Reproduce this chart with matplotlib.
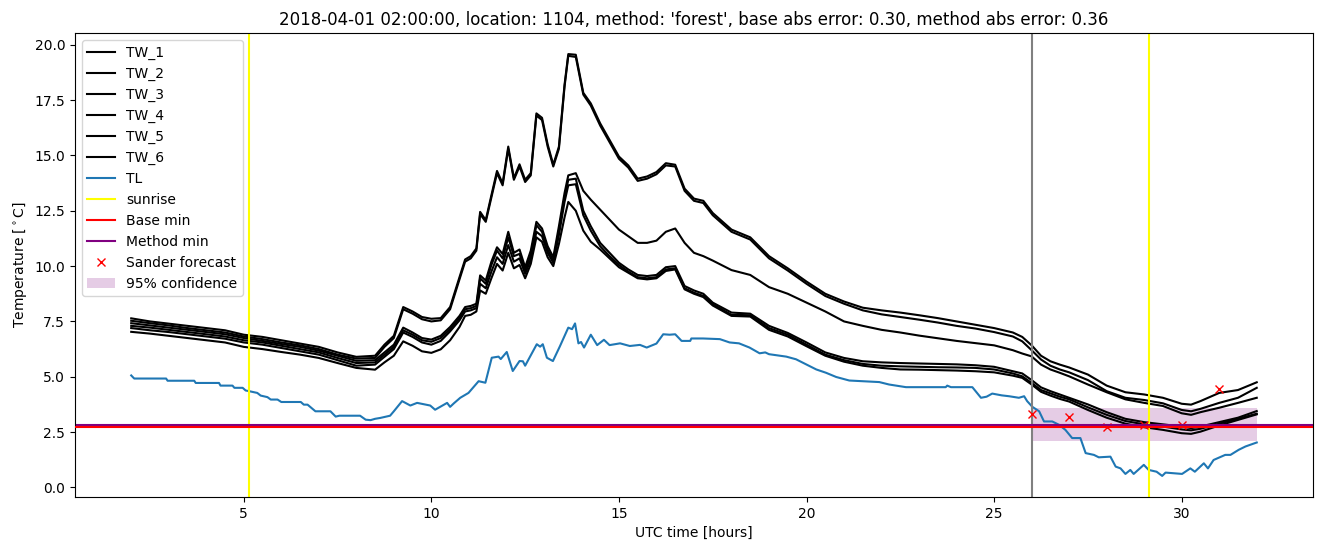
import numpy as np
import matplotlib

matplotlib.use("Agg")
import matplotlib.pyplot as plt

# time axis of the water temperature sensors (hours UTC)
hours_tw = [
    2.0, 2.5, 3.0, 3.5, 4.0, 4.5, 5.0, 5.5, 6.0, 6.5, 7.0, 7.5, 8.0, 8.5,
    8.75, 9.0, 9.25, 9.5, 9.75, 10.0, 10.25, 10.5, 10.75,
    10.9, 11.05, 11.2, 11.3, 11.45, 11.6, 11.75, 11.9, 12.05, 12.2, 12.35, 12.5,
    12.65, 12.8, 12.95, 13.1, 13.25, 13.4, 13.55, 13.65, 13.85, 14.05, 14.25,
    14.5, 14.75, 15.0, 15.25, 15.5, 15.75, 16.0, 16.25, 16.5, 16.75, 17.0, 17.25, 17.5,
    18.0, 18.5, 19.0, 19.5, 20.0, 20.5, 21.0, 21.5, 22.0, 22.5, 23.0, 23.5, 24.0,
    24.5, 25.0, 25.5,
    25.75, 26.0, 26.25, 26.5, 26.75, 27.0, 27.5, 28.0, 28.5, 29.0, 29.5, 30.0,
    30.25, 30.5, 31.0, 31.5, 32.0,
]

tw_1 = [
    7.64, 7.5, 7.4, 7.3, 7.2, 7.1, 6.9, 6.8, 6.65, 6.5, 6.35, 6.1, 5.9, 5.95,
    6.45, 6.85, 8.15, 7.95, 7.7, 7.62, 7.65, 8.15, 9.5,
    10.3, 10.45, 10.8, 12.45, 12.08, 13.2, 14.3, 13.74, 15.4, 13.97, 14.6, 13.9,
    14.2, 16.9, 16.7, 15.5, 14.58, 15.4, 18.2, 19.58, 19.55, 17.83, 17.35,
    16.45, 15.7, 14.95, 14.55, 13.95, 14.05, 14.25, 14.65, 14.58, 13.5, 13.05, 12.95, 12.4,
    11.65, 11.3, 10.45, 9.9, 9.3, 8.75, 8.4, 8.12, 8.0, 7.9, 7.78, 7.65, 7.5,
    7.35, 7.2, 7.0,
    6.8, 6.42, 5.95, 5.7, 5.55, 5.42, 5.1, 4.6, 4.3, 4.2, 4.05, 3.78,
    3.74, 3.9, 4.27, 4.4, 4.75,
]
tw_2 = [
    7.53, 7.42, 7.32, 7.2, 7.1, 7.0, 6.82, 6.7, 6.55, 6.42, 6.25, 6.0, 5.82, 5.85,
    6.35, 6.75, 8.05, 7.85, 7.6, 7.5, 7.55, 8.05, 9.4,
    10.2, 10.35, 10.7, 12.35, 12.0, 13.1, 14.2, 13.65, 15.3, 13.9, 14.5, 13.8,
    14.1, 16.8, 16.6, 15.4, 14.5, 15.3, 18.1, 19.5, 19.45, 17.75, 17.25,
    16.35, 15.6, 14.85, 14.45, 13.85, 13.95, 14.15, 14.55, 14.5, 13.4, 12.95, 12.85, 12.3,
    11.55, 11.2, 10.35, 9.8, 9.2, 8.65, 8.3, 8.0, 7.82, 7.7, 7.58, 7.45, 7.3,
    7.18, 7.02, 6.82,
    6.6, 6.2, 5.78, 5.5, 5.33, 5.2, 4.85, 4.35, 4.05, 3.95, 3.8, 3.5,
    3.44, 3.55, 3.82, 4.05, 4.5,
]
tw_3 = [
    7.42, 7.32, 7.22, 7.12, 7.02, 6.92, 6.75, 6.62, 6.48, 6.35, 6.18, 5.95, 5.72, 5.75,
    6.1, 6.45, 7.22, 7.0, 6.75, 6.68, 6.85, 7.25, 7.75,
    8.15, 8.2, 8.3, 9.58, 9.35, 10.2, 10.85, 10.55, 11.55, 10.6, 10.75, 9.95,
    10.7, 12.0, 11.7, 10.9, 10.4, 11.8, 13.3, 14.1, 14.2, 13.4, 13.0,
    12.55, 12.1, 11.65, 11.35, 11.05, 11.05, 11.15, 11.55, 11.7, 11.05, 10.6, 10.45, 10.25,
    9.82, 9.6, 9.05, 8.75, 8.35, 7.95, 7.5, 7.3, 7.12, 7.0, 6.86, 6.74, 6.62,
    6.52, 6.42, 6.2,
    6.05, 5.92, 5.55, 5.33, 5.18, 5.02, 4.65, 4.3, 3.98, 3.82, 3.68, 3.35,
    3.28, 3.4, 3.6, 3.82, 4.05,
]
tw_4 = [
    7.3, 7.22, 7.12, 7.02, 6.92, 6.82, 6.65, 6.55, 6.4, 6.25, 6.1, 5.85, 5.62, 5.65,
    6.0, 6.35, 7.1, 6.9, 6.65, 6.58, 6.75, 7.15, 7.65,
    8.05, 8.1, 8.2, 9.45, 9.2, 10.05, 10.7, 10.35, 11.3, 10.45, 10.55, 9.8,
    10.5, 11.85, 11.55, 10.75, 10.25, 11.6, 13.1, 13.9, 13.95, 12.5, 11.8,
    11.05, 10.6, 10.15, 9.85, 9.6, 9.55, 9.6, 9.95, 10.0, 9.1, 8.9, 8.75, 8.35,
    7.9, 7.85, 7.3, 6.98, 6.55, 6.1, 5.85, 5.7, 5.65, 5.62, 5.6, 5.58, 5.56,
    5.52, 5.45, 5.25,
    5.15, 4.85, 4.52, 4.35, 4.2, 4.05, 3.75, 3.4, 3.1, 2.95, 2.85, 2.75,
    2.68, 2.75, 2.95, 3.15, 3.45,
]
tw_5 = [
    7.2, 7.1, 7.02, 6.92, 6.82, 6.72, 6.55, 6.45, 6.3, 6.15, 6.0, 5.75, 5.5, 5.55,
    5.9, 6.25, 7.0, 6.8, 6.55, 6.45, 6.62, 7.05, 7.55,
    7.95, 8.0, 8.1, 9.2, 9.0, 9.75, 10.4, 10.1, 10.95, 10.2, 10.35, 9.65,
    10.3, 11.55, 11.35, 10.6, 10.15, 11.4, 12.9, 13.65, 13.7, 12.3, 11.6,
    10.9, 10.45, 10.05, 9.75, 9.5, 9.45, 9.5, 9.85, 9.9, 9.0, 8.8, 8.65, 8.28,
    7.8, 7.78, 7.2, 6.9, 6.45, 6.0, 5.75, 5.58, 5.5, 5.47, 5.45, 5.43, 5.42,
    5.4, 5.33, 5.15,
    5.02, 4.72, 4.4, 4.25, 4.1, 3.98, 3.62, 3.28, 3.0, 2.85, 2.75, 2.62,
    2.58, 2.65, 2.88, 3.1, 3.33,
]
tw_6 = [
    7.03, 6.95, 6.85, 6.75, 6.65, 6.55, 6.35, 6.25, 6.12, 6.0, 5.85, 5.62, 5.4, 5.32,
    5.65, 5.95, 6.6, 6.4, 6.15, 6.08, 6.24, 6.65, 7.25,
    7.75, 7.8, 7.95, 8.9, 8.75, 9.45, 10.1, 9.8, 10.6, 9.9, 10.05, 9.45,
    10.1, 11.3, 11.1, 10.4, 10.0, 11.0, 12.2, 12.9, 12.5, 11.6, 11.1,
    10.75, 10.35, 9.95, 9.7, 9.45, 9.4, 9.45, 9.78, 9.85, 8.95, 8.75, 8.6, 8.22,
    7.75, 7.72, 7.12, 6.82, 6.38, 5.95, 5.68, 5.5, 5.4, 5.33, 5.32, 5.3, 5.28,
    5.25, 5.2, 5.05,
    4.95, 4.65, 4.32, 4.15, 4.0, 3.88, 3.5, 3.15, 2.88, 2.72, 2.6, 2.45,
    2.42, 2.52, 2.8, 3.05, 3.3,
]

# air temperature
hours_tl = [
    2.0, 2.08, 2.93, 2.97, 3.68, 3.72, 4.34, 4.38, 4.7, 4.75, 4.97, 5.05, 5.14,
    5.36, 5.45, 5.63, 5.72, 5.9, 6.0, 6.52, 6.6, 6.7, 6.91, 7.31, 7.45, 7.55,
    8.1, 8.25, 8.38, 8.5, 8.64, 8.9, 9.0, 9.22, 9.44, 9.62, 9.97, 10.1, 10.42,
    10.5, 10.6, 10.77, 10.99, 11.26, 11.44, 11.61, 11.79, 11.85, 12.01, 12.17,
    12.35, 12.44, 12.5, 12.81, 12.9, 12.97, 13.08, 13.24, 13.43, 13.65, 13.75,
    13.83, 13.92, 13.99, 14.07, 14.25, 14.42, 14.6, 14.75, 15.03, 15.29, 15.56,
    15.74, 16.0, 16.18, 16.35, 16.5, 16.67, 16.9, 16.93, 17.24, 17.69, 17.95,
    18.2, 18.48, 18.75, 18.9, 19.0, 19.46, 19.72, 19.99, 20.26, 20.52, 20.79,
    21.14, 21.94, 22.2, 22.65, 23.71, 23.75, 23.85, 24.42, 24.65, 24.8, 24.95,
    25.2, 25.4, 25.66, 25.8, 25.88, 26.02, 26.2, 26.33, 26.55, 26.73, 26.9,
    27.08, 27.3, 27.44, 27.66, 27.79, 28.1, 28.24, 28.37, 28.5, 28.63, 28.72,
    28.99, 29.12, 29.33, 29.48, 29.57, 30.01, 30.23, 30.35, 30.59, 30.7, 30.85,
    31.16, 31.3, 31.52, 31.7, 32.0,
]
tl = [
    5.06, 4.92, 4.92, 4.82, 4.82, 4.72, 4.72, 4.6, 4.6, 4.5, 4.5, 4.38, 4.35,
    4.27, 4.15, 4.08, 3.97, 3.97, 3.86, 3.86, 3.74, 3.74, 3.44, 3.44, 3.2, 3.24,
    3.24, 3.06, 3.04, 3.1, 3.14, 3.24, 3.44, 3.9, 3.7, 3.82, 3.7, 3.51, 3.82,
    3.64, 3.8, 4.05, 4.27, 4.8, 4.73, 5.86, 5.91, 5.8, 6.12, 5.26,
    5.71, 5.7, 5.5, 6.47, 6.36, 6.47, 5.86, 5.71, 6.39, 7.22, 7.15,
    7.41, 6.51, 6.57, 6.32, 6.9, 6.43, 6.67, 6.43, 6.51, 6.39, 6.44,
    6.32, 6.5, 6.92, 6.9, 6.92, 6.62, 6.62, 6.73, 6.73, 6.7, 6.55,
    6.51, 6.32, 6.06, 6.1, 6.02, 5.91, 5.79, 5.56, 5.33, 5.18, 4.99,
    4.83, 4.76, 4.65, 4.53, 4.53, 4.6, 4.53, 4.53, 4.05, 4.1, 4.24,
    4.16, 4.12, 4.05, 4.12, 3.9, 3.64, 3.44, 2.98, 2.98, 2.83, 2.6,
    2.23, 2.23, 1.55, 1.47, 1.36, 1.39, 0.94, 0.86, 0.61, 0.79, 0.61,
    1.02, 0.79, 0.71, 0.52, 0.67, 0.61, 0.86, 0.71, 1.09, 0.86, 1.24,
    1.47, 1.47, 1.7, 1.85, 2.03,
]

sunrise = [5.13, 29.14]
forecast_start = 26.0
base_min = 2.74
method_min = 2.80

sander_hours = [26, 27, 28, 29, 30, 31]
sander_temp = [3.32, 3.17, 2.71, 2.81, 2.80, 4.45]

conf_hours = [26.0, 32.0]
conf_low = [2.1, 2.1]
conf_high = [3.6, 3.6]

title = ("2018-04-01 02:00:00, location: 1104, method: 'forest', "
         "base abs error: 0.30, method abs error: 0.36")

fig = plt.figure(figsize=(13.24, 5.47), dpi=100)
ax = fig.add_subplot(1, 1, 1)
fig.subplots_adjust(left=0.0566, right=0.9917, top=0.9397, bottom=0.0914)

tw_list = [tw_1, tw_2, tw_3, tw_4, tw_5, tw_6]
for i in range(len(tw_list)):
    ax.plot(hours_tw, tw_list[i], color="black", label=f"TW_{i + 1}")

ax.plot(hours_tl, tl, color="tab:blue", label="TL")

for i in range(len(sunrise)):
    ax.axvline(sunrise[i], color="yellow", label="sunrise" if i == 0 else None)
ax.axvline(forecast_start, color="gray")

ax.axhline(base_min, color="red", label="Base min", zorder=3)
ax.axhline(method_min, color="purple", label="Method min", zorder=2.5)

ax.plot(sander_hours, sander_temp, "x", color="red", linestyle="none",
        label="Sander forecast")
ax.fill_between(conf_hours, conf_low, conf_high, color="purple", alpha=0.2,
                linewidth=0, label="95% confidence")

ax.set_title(title)
ax.set_xlabel("UTC time [hours]")
ax.set_ylabel("Temperature [$^\\circ$C]")
ax.legend(loc="upper left")

plt.savefig("out.png", dpi=100)
